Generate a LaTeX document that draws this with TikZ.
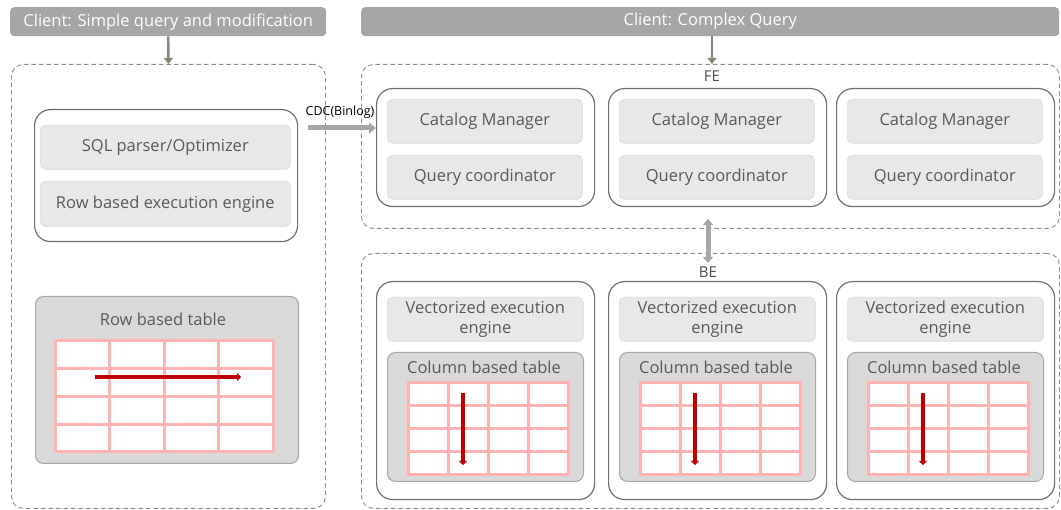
\documentclass[tikz,border=0pt]{standalone}
\usepackage{fontspec}
\setmainfont{Open Sans}
\usetikzlibrary{arrows.meta,calc}
\definecolor{hdr}{HTML}{A6A6A6}
\definecolor{dashc}{HTML}{8C8C8C}
\definecolor{srvc}{HTML}{707070}
\definecolor{compf}{HTML}{E8E8E8}
\definecolor{compd}{HTML}{DADADA}
\definecolor{txtc}{HTML}{595959}
\definecolor{tblf}{HTML}{D9D9D9}
\definecolor{tbld}{HTML}{A6A6A6}
\definecolor{gridc}{HTML}{FFB3B3}
\definecolor{redarr}{HTML}{C00000}
\definecolor{arrc}{HTML}{A6A6A6}
\definecolor{arrd}{HTML}{87877A}
\newcommand{\pinkgrid}[4]{%
  \pgfmathsetmacro{\gxa}{#1}\pgfmathsetmacro{\gya}{#2}%
  \pgfmathsetmacro{\gxb}{#3}\pgfmathsetmacro{\gyb}{#4}%
  \fill[white] (\gxa,\gya) rectangle (\gxb,\gyb);
  \foreach \i in {0,...,4}{
    \draw[gridc, line width=3pt, line cap=rect] ({\gxa+\i*(\gxb-\gxa)/4},\gya) -- ({\gxa+\i*(\gxb-\gxa)/4},\gyb);
    \draw[gridc, line width=3pt, line cap=rect] (\gxa,{\gya+\i*(\gyb-\gya)/4}) -- (\gxb,{\gya+\i*(\gyb-\gya)/4});
  }}
\begin{document}
\begin{tikzpicture}[x=1pt,y=-1pt,
  header/.style={fill=hdr, rounded corners=4pt, text=white, font=\fontsize{16.5}{19}\selectfont, anchor=north west, inner sep=0pt},
  dashbox/.style={draw=dashc, dash pattern=on 4.5pt off 3pt, rounded corners=12pt, line width=0.9pt, anchor=north west, inner sep=0pt},
  srvbox/.style={draw=srvc, line width=1.2pt, rounded corners=16pt, fill=white, anchor=north west, inner sep=0pt},
  comp/.style={fill=compf, draw=compd, line width=0.6pt, rounded corners=5pt, text=txtc, font=\fontsize{16.5}{20}\selectfont, anchor=north west, inner sep=0pt, align=center},
  tbl/.style={fill=tblf, draw=tbld, line width=1pt, rounded corners=8pt, anchor=north west, inner sep=0pt},
  tbllabel/.style={text=txtc, font=\fontsize{16.5}{20}\selectfont, inner sep=0pt},
  lbl/.style={text=txtc!85!black, font=\fontsize{15}{17}\selectfont, inner sep=0pt},
  grayarrow/.style={draw=arrc, line width=5pt, -{Triangle[length=7pt,width=11pt]}},
  darkarrow/.style={draw=arrd, line width=2.5pt, -{Triangle[length=6pt,width=9pt]}},
  redarrow/.style={draw=redarr, line width=4pt, -{Triangle[length=4pt,width=8pt]}}
]
\useasboundingbox (0,0) rectangle (1061,510);
% headers
\node[header, minimum width=316pt, minimum height=29pt] (hl) at (10,7) {Client: Simple query and modification};
\node[header, minimum width=698pt, minimum height=29pt] (hr) at (361,7) {Client: Complex Query};
% containers
\node[dashbox, minimum width=314pt, minimum height=444pt] (lc) at (11,64) {};
\node[dashbox, minimum width=698pt, minimum height=164pt] (fec) at (361,64) {};
\node[dashbox, minimum width=698pt, minimum height=255pt] (bec) at (361,253) {};
\node[lbl] (felbl) at (712,76) {FE};
\node[lbl] (belbl) at (708,272) {BE};
% left server
\node[srvbox, minimum width=263pt, minimum height=132pt] (ls) at (34,109) {};
\node[comp, minimum width=250pt, minimum height=44pt] (sql) at (40,125) {SQL parser/Optimizer};
\node[comp, minimum width=250pt, minimum height=45pt] (rbe) at (40,181) {Row based execution engine};
% row table
\node[tbl, minimum width=263pt, minimum height=167pt] (rt) at (35,296) {};
\node[tbllabel] (rtl) at (163,319) {Row based table};
\pinkgrid{55}{341}{273}{452}
\draw[redarrow] (95,377) -- (241,377);
% FE servers
\foreach \n/\x in {1/376,2/608,3/836}{
  \node[srvbox, minimum width=218pt, minimum height=118pt] (fe\n) at (\x,88) {};
  \node[comp, minimum width=195pt, minimum height=44pt] (cm\n) at (\x+11,99) {Catalog Manager};
  \node[comp, minimum width=195pt, minimum height=44pt] (qc\n) at (\x+11,155) {Query coordinator};
}
% BE servers
\foreach \n/\x in {1/376,2/608,3/836}{
  \node[srvbox, minimum width=218pt, minimum height=218pt] (be\n) at (\x,281) {};
  \node[comp, minimum width=196pt, minimum height=44pt] (ve\n) at (\x+11,297) {Vectorized execution\\engine};
  \node[tbl, minimum width=196pt, minimum height=129pt] (ct\n) at (\x+11,352) {};
  \node[tbllabel] (ctl\n) at (\x+108,367) {Column based table};
  \pinkgrid{\x+32}{383}{\x+192}{475}
  \draw[redarrow] (\x+87,393) -- (\x+87,465);
}
% connectors
\draw[darkarrow] (hl.south) -- (lc.north);
\draw[darkarrow] (hr.south -| felbl) -- (fec.north -| felbl);
\coordinate (cdcs) at (308,128);
\draw[grayarrow] (cdcs) -- (fe1.west |- cdcs);
\node[font=\fontsize{12.5}{14}\selectfont, inner sep=0pt] (cdc) at (340,112) {CDC(Binlog)};
\coordinate (dtop) at (708,219);
\coordinate (dbot) at (708,263);
\draw[draw=arrc, line width=5pt, {Triangle[length=6pt,width=10pt]}-{Triangle[length=6pt,width=10pt]}] (dtop) -- (dbot);
\end{tikzpicture}
\end{document}
